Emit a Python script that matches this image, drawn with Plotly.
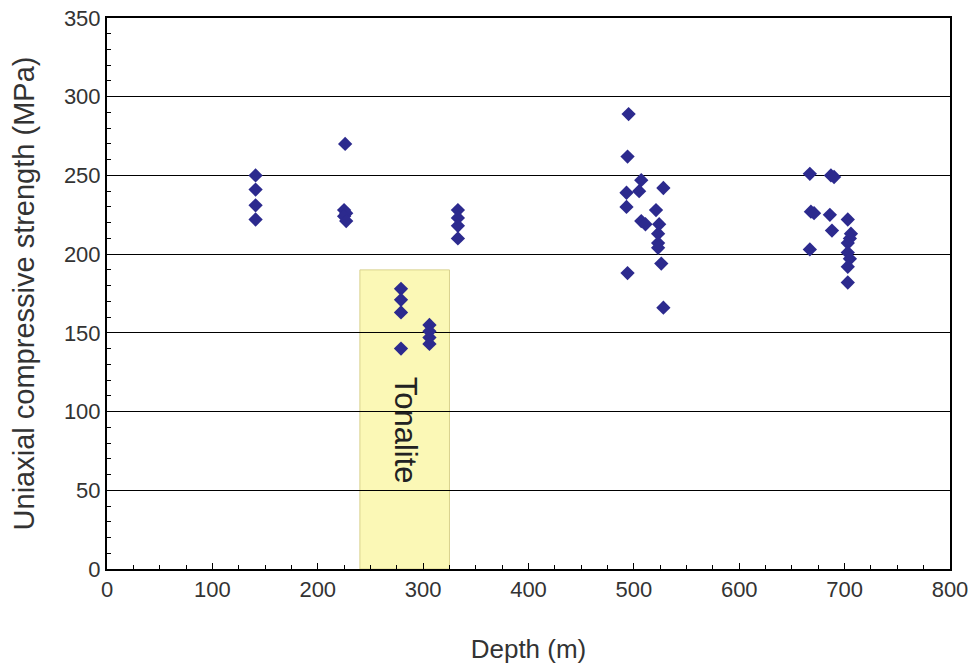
import plotly.graph_objects as go

depth_m = [141, 141, 141, 141,
           226, 225, 227, 225, 227,
           333, 333, 333, 333,
           279, 279, 279, 279,
           306, 306, 306, 306,
           495, 494, 507, 528, 493, 505, 493, 521, 507, 511, 524, 523, 523, 523, 526, 494, 528,
           667, 687, 690, 668, 671, 686, 703, 688, 706, 705, 703, 667, 703, 705, 703, 703]
ucs_mpa = [250, 241, 231, 222,
           270, 228, 226, 224, 221,
           228, 223, 218, 210,
           178, 171, 163, 140,
           155, 151, 147, 143,
           289, 262, 247, 242, 239, 240, 230, 228, 221, 219, 219, 213, 207, 204, 194, 188, 166,
           251, 250, 249, 227, 226, 225, 222, 215, 213, 210, 207, 203, 201, 197, 192, 182]

tonalite_x = [240, 325]
tonalite_top = 190
tonalite_label = "Tonalite"

x_ticks = [0, 100, 200, 300, 400, 500, 600, 700, 800]
y_ticks = [0, 50, 100, 150, 200, 250, 300, 350]

fig = go.Figure()
fig.add_shape(type="rect", x0=tonalite_x[0], x1=tonalite_x[1], y0=0, y1=tonalite_top,
              xref="x", yref="y", fillcolor="#fbf8b6", line=dict(color="#d9d28e", width=1),
              layer="below")
fig.add_trace(go.Scatter(x=depth_m, y=ucs_mpa, mode="markers",
                         marker=dict(symbol="diamond", size=11, color="#2c2a8e"),
                         showlegend=False))
fig.add_annotation(x=sum(tonalite_x) / 2 + 1, y=88, text=tonalite_label, textangle=90,
                   showarrow=False, font=dict(family="Liberation Sans, Arial", size=31, color="#222"))

fig.update_layout(
    width=970, height=668,
    margin=dict(l=107, r=20, t=18, b=99),
    paper_bgcolor="white", plot_bgcolor="white",
    font=dict(family="Liberation Sans, Arial", color="#333"),
)
fig.update_xaxes(range=[0, 800], tickvals=x_ticks, showgrid=False, zeroline=False,
                 showline=True, linecolor="black", linewidth=2, mirror=True,
                 ticks="inside", ticklen=6, tickcolor="black", automargin=False,
                 ticklabeloverflow="allow",
                 minor=dict(dtick=25, ticks="inside", ticklen=4, tickcolor="black"),
                 tickfont=dict(size=22),
                 title=dict(text="Depth (m)", font=dict(size=26), standoff=38))
fig.update_yaxes(range=[0, 350], tickvals=y_ticks, showgrid=True, gridcolor="black", gridwidth=1,
                 zeroline=False, showline=True, linecolor="black", linewidth=2, mirror=True,
                 ticks="inside", ticklen=6, tickcolor="black", automargin=False,
                 ticklabeloverflow="allow",
                 minor=dict(dtick=10, ticks="inside", ticklen=4, tickcolor="black", showgrid=False),
                 tickfont=dict(size=22),
                 title=dict(text="Uniaxial compressive strength (MPa)", font=dict(size=29), standoff=21))

fig.write_html("out.html", config={"displayModeBar": False},
               post_script="document.body.style.margin='0';")
